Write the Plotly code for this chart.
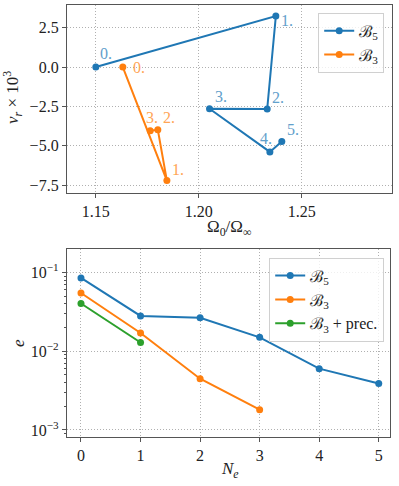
import plotly.graph_objects as go
from plotly.subplots import make_subplots

# ---- data: top panel ----
b5_omega = [1.150, 1.2374, 1.2332, 1.2052, 1.2345, 1.2403]
b5_vr = [0.0, 3.24, -2.67, -2.65, -5.39, -4.73]
b3_omega = [1.1631, 1.1845, 1.1801, 1.1764]
b3_vr = [0.0, -7.21, -3.99, -4.05]
b5_labels = ["0.", "1.", "2.", "3.", "4.", "5."]
b3_labels = ["0.", "1.", "2.", "3."]

# ---- data: bottom panel ----
ne_b5 = [0, 1, 2, 3, 4, 5]
e_b5 = [0.085, 0.028, 0.0266, 0.015, 0.006, 0.0039]
ne_b3 = [0, 1, 2, 3]
e_b3 = [0.0547, 0.017, 0.00448, 0.00181]
ne_b3p = [0, 1]
e_b3p = [0.0403, 0.0129]

BLUE = "#1f77b4"
ORANGE = "#ff7f0e"
GREEN = "#2ca02c"
BLUE_L = "#62a0cb"
ORANGE_L = "#ffa556"
FONT = "Liberation Serif, serif"
TXT = "#222222"

fig = make_subplots(rows=2, cols=1, vertical_spacing=0.13)

def add(x, y, name, color, legend, row):
    fig.add_trace(go.Scatter(x=x, y=y, mode="lines+markers", name=name,
                             line=dict(color=color, width=2),
                             marker=dict(size=7, color=color),
                             legend=legend), row=row, col=1)

add(b5_omega, b5_vr, "ℬ<sub>5</sub>", BLUE, "legend", 1)
add(b3_omega, b3_vr, "ℬ<sub>3</sub>", ORANGE, "legend", 1)
add(ne_b5, e_b5, "ℬ<sub>5</sub>", BLUE, "legend2", 2)
add(ne_b3, e_b3, "ℬ<sub>3</sub>", ORANGE, "legend2", 2)
add(ne_b3p, e_b3p, "ℬ<sub>3</sub> + prec.", GREEN, "legend2", 2)

# point labels
b5_off = [(10, 14), (11, -4), (11, 12), (11, 12), (-4, 13), (11, 12)]
b3_off = [(16, 0), (11, 11), (11, 12), (2, 13)]
for xs, ys, labs, offs, col in [(b5_omega, b5_vr, b5_labels, b5_off, BLUE_L),
                                (b3_omega, b3_vr, b3_labels, b3_off, ORANGE_L)]:
    for xv, yv, lab, (dx, dy) in zip(xs, ys, labs, offs):
        fig.add_annotation(x=xv, y=yv, xref="x", yref="y", text=lab, showarrow=False,
                           xshift=dx, yshift=dy, font=dict(family=FONT, size=16, color=col))

axis_common = dict(showline=True, mirror=True, linecolor="#555555", linewidth=1.3,
                   ticks="outside", ticklen=4, tickcolor="#555555", automargin=False,
                   showgrid=True, gridcolor="#b0b0b0", griddash="1px,2px", gridwidth=1,
                   zeroline=False, tickfont=dict(family=FONT, size=16, color=TXT))

fig.update_xaxes(axis_common)
fig.update_yaxes(axis_common)

fig.update_xaxes(row=1, col=1, range=[1.136, 1.2938], tickvals=[1.15, 1.20, 1.25],
                 ticktext=["1.15", "1.20", "1.25"], domain=[0, 1])
fig.update_yaxes(row=1, col=1, range=[-8.0, 3.94], tickvals=[2.5, 0, -2.5, -5, -7.5],
                 ticktext=["2.5", "0.0", "−2.5", "−5.0", "−7.5"], domain=[0.5648, 1])
fig.update_xaxes(row=2, col=1, range=[-0.235, 5.19], tickvals=[0, 1, 2, 3, 4, 5],
                 domain=[0, 0.994])
fig.update_yaxes(row=2, col=1, type="log", range=[-3.089, -0.703],
                 tickvals=[0.1, 0.01, 0.001],
                 ticktext=["10<sup>−1</sup>", "10<sup>−2</sup>", "10<sup>−3</sup>"],
                 domain=[0, 0.4352],
                 minor=dict(ticks="outside", ticklen=2, tickcolor="#555555", showgrid=False,
                            dtick="D1"))

# axis titles (paper coords)
PW, PH, L, B = 325, 432, 67, 49
def px2paper(xp, yp):
    return (xp - L) / PW, (486 - B - yp) / PH

titles = [
    ("Ω<sub>0</sub>/Ω<sub>∞</sub>", 229, 228, 0),
    ("<i>v<sub>r</sub></i> × 10<sup>3</sup>", 12, 98, -90),
    ("<i>N<sub>e</sub></i>", 230, 470, 0),
    ("<i>e</i>", 18, 343, -90),
]
for txt, xp, yp, ang in titles:
    xx, yy = px2paper(xp, yp)
    fig.add_annotation(x=xx, y=yy, xref="paper", yref="paper", text=txt, showarrow=False,
                       xanchor="center", yanchor="middle", textangle=ang,
                       font=dict(family=FONT, size=17, color=TXT))

legend_common = dict(bgcolor="rgba(255,255,255,0.8)", bordercolor="#d0d0d0", borderwidth=1,
                     font=dict(family=FONT, size=16, color=TXT),
                     xanchor="right", yanchor="top", xref="paper", yref="paper")
fig.update_layout(
    width=399, height=486,
    margin=dict(l=L, r=7, t=5, b=B, autoexpand=False),
    plot_bgcolor="white", paper_bgcolor="white",
    font=dict(family=FONT, color=TXT),
    legend=dict(legend_common, x=0.976, y=0.982),
    legend2=dict(legend_common, x=0.976, y=0.415),
)

fig.write_html("out.html", config={"displayModeBar": False},
               post_script="document.body.style.margin='0';document.body.style.padding='0';")
